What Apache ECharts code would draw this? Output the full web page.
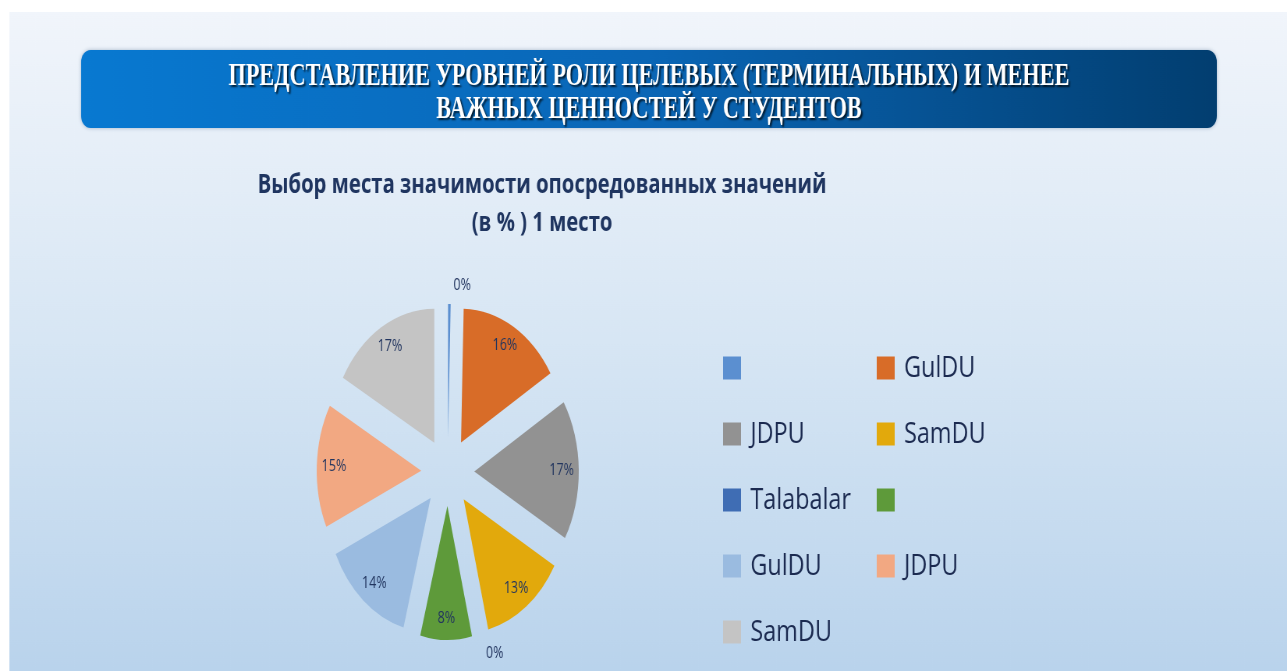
<!DOCTYPE html>
<html>
<head>
<meta charset="utf-8">
<script src="https://cdn.jsdelivr.net/npm/echarts@6/dist/echarts.min.js"></script>
<style>
  html, body { margin: 0; padding: 0; background: #fff; overflow: hidden; }
  /* the source slide is squeezed horizontally, so the whole chart is drawn wide and squeezed back */
  #chart { width: 1650px; height: 671px; transform: scaleX(0.78); transform-origin: 0 0; }
</style>
</head>
<body>
<div id="chart"></div>
<script>
const bannerLines = ['ПРЕДСТАВЛЕНИЕ УРОВНЕЙ РОЛИ ЦЕЛЕВЫХ (ТЕРМИНАЛЬНЫХ) И МЕНЕЕ', 'ВАЖНЫХ ЦЕННОСТЕЙ У СТУДЕНТОВ']
const chartTitle = 'Выбор места значимости опосредованных значений\n(в % ) 1 место'
const sliceLabels = ['', 'GulDU', 'JDPU', 'SamDU', 'Talabalar', '', 'GulDU', 'JDPU', 'SamDU']
const sliceValues = [0.4, 16, 17, 13, 0, 8, 14, 15, 17]
const sliceColors = ['#5b8fd0', '#d86c28', '#929292', '#e2a90c', '#3f6db4', '#5e9a3a', '#9abbe0', '#f2a882', '#c4c4c4']

// legend names must be unique, the shown text comes from sliceLabels
const keys = sliceLabels.map((l, i) => 's' + i)

const chart = echarts.init(document.getElementById('chart'))

const center = [574, 472]
const legendText = {
  fontFamily: 'Open Sans',
  fontSize: 30,
  color: '#1b2a50',
  lineHeight: 36,
  padding: [0, 0, 0, 7]
}

function legendFor(idx, left) {
  return {
    orient: 'vertical',
    left: left,
    top: 350,
    padding: 0,
    itemGap: 30,
    itemWidth: 23,
    itemHeight: 23,
    icon: 'rect',
    selectedMode: false,
    data: idx.map(i => keys[i]),
    formatter: name => sliceLabels[keys.indexOf(name)] || ' ',
    textStyle: legendText
  }
}

const option = {
  animation: false,
  title: {
    text: chartTitle,
    left: 690,
    top: 162,
    textAlign: 'center',
    textStyle: {
      fontFamily: 'Open Sans',
      fontWeight: 'bold',
      fontSize: 26,
      lineHeight: 38,
      color: '#1f3560'
    }
  },
  legend: [legendFor([0, 2, 4, 6, 8], 927), legendFor([1, 3, 5, 7], 1124)],
  graphic: [
    {
      type: 'rect',
      z: -10,
      silent: true,
      shape: { x: 12, y: 12, width: 1640, height: 660 },
      style: {
        fill: new echarts.graphic.LinearGradient(0, 0, 0, 1, [
          { offset: 0, color: '#f1f5fb' },
          { offset: 0.5, color: '#d7e6f4' },
          { offset: 1, color: '#b9d3ec' }
        ])
      }
    },
    {
      type: 'rect',
      z: -5,
      silent: true,
      shape: { x: 104, y: 50, width: 1456, height: 78, r: 12 },
      style: {
        fill: new echarts.graphic.LinearGradient(0, 0, 1, 0, [
          { offset: 0, color: '#0879d1' },
          { offset: 0.5, color: '#0a66b6' },
          { offset: 1, color: '#023e70' }
        ]),
        shadowBlur: 4,
        shadowColor: 'rgba(0,40,90,0.3)'
      }
    },
    {
      type: 'text',
      silent: true,
      x: 832,
      y: 93,
      scaleX: 0.89,
      style: {
        text: bannerLines.join('\n'),
        font: 'bold 32px "Liberation Serif"',
        lineHeight: 33,
        align: 'center',
        verticalAlign: 'middle',
        fill: '#ffffff',
        textShadowColor: 'rgba(0,0,0,0.75)',
        textShadowOffsetX: 2,
        textShadowOffsetY: 2,
        textShadowBlur: 2
      }
    }
  ],
  series: [
    {
      type: 'pie',
      center: center,
      radius: 134,
      startAngle: 90,
      selectedMode: 'multiple',
      selectedOffset: 34,
      avoidLabelOverlap: false,
      silent: true,
      label: { show: false },
      labelLine: { show: false },
      data: keys.map((k, i) => ({
        name: k,
        value: sliceValues[i],
        selected: true,
        itemStyle: { color: sliceColors[i] }
      }))
    },
    {
      // transparent copy that only carries the percent labels
      type: 'pie',
      center: center,
      radius: [84, 134],
      startAngle: 90,
      selectedMode: 'multiple',
      selectedOffset: 34,
      avoidLabelOverlap: false,
      silent: true,
      itemStyle: { color: 'rgba(0,0,0,0)' },
      label: {
        show: true,
        position: 'inside',
        formatter: p => Math.round(p.value) + '%',
        fontFamily: 'Open Sans',
        fontSize: 16,
        color: '#22355f'
      },
      labelLine: { show: false, length: 19, length2: 0 },
      data: keys.map((k, i) => ({
        name: k,
        value: sliceValues[i],
        selected: true,
        label: Math.round(sliceValues[i]) === 0 ? { position: 'outside' } : undefined
      }))
    }
  ]
}

chart.setOption(option)
</script>
</body>
</html>
